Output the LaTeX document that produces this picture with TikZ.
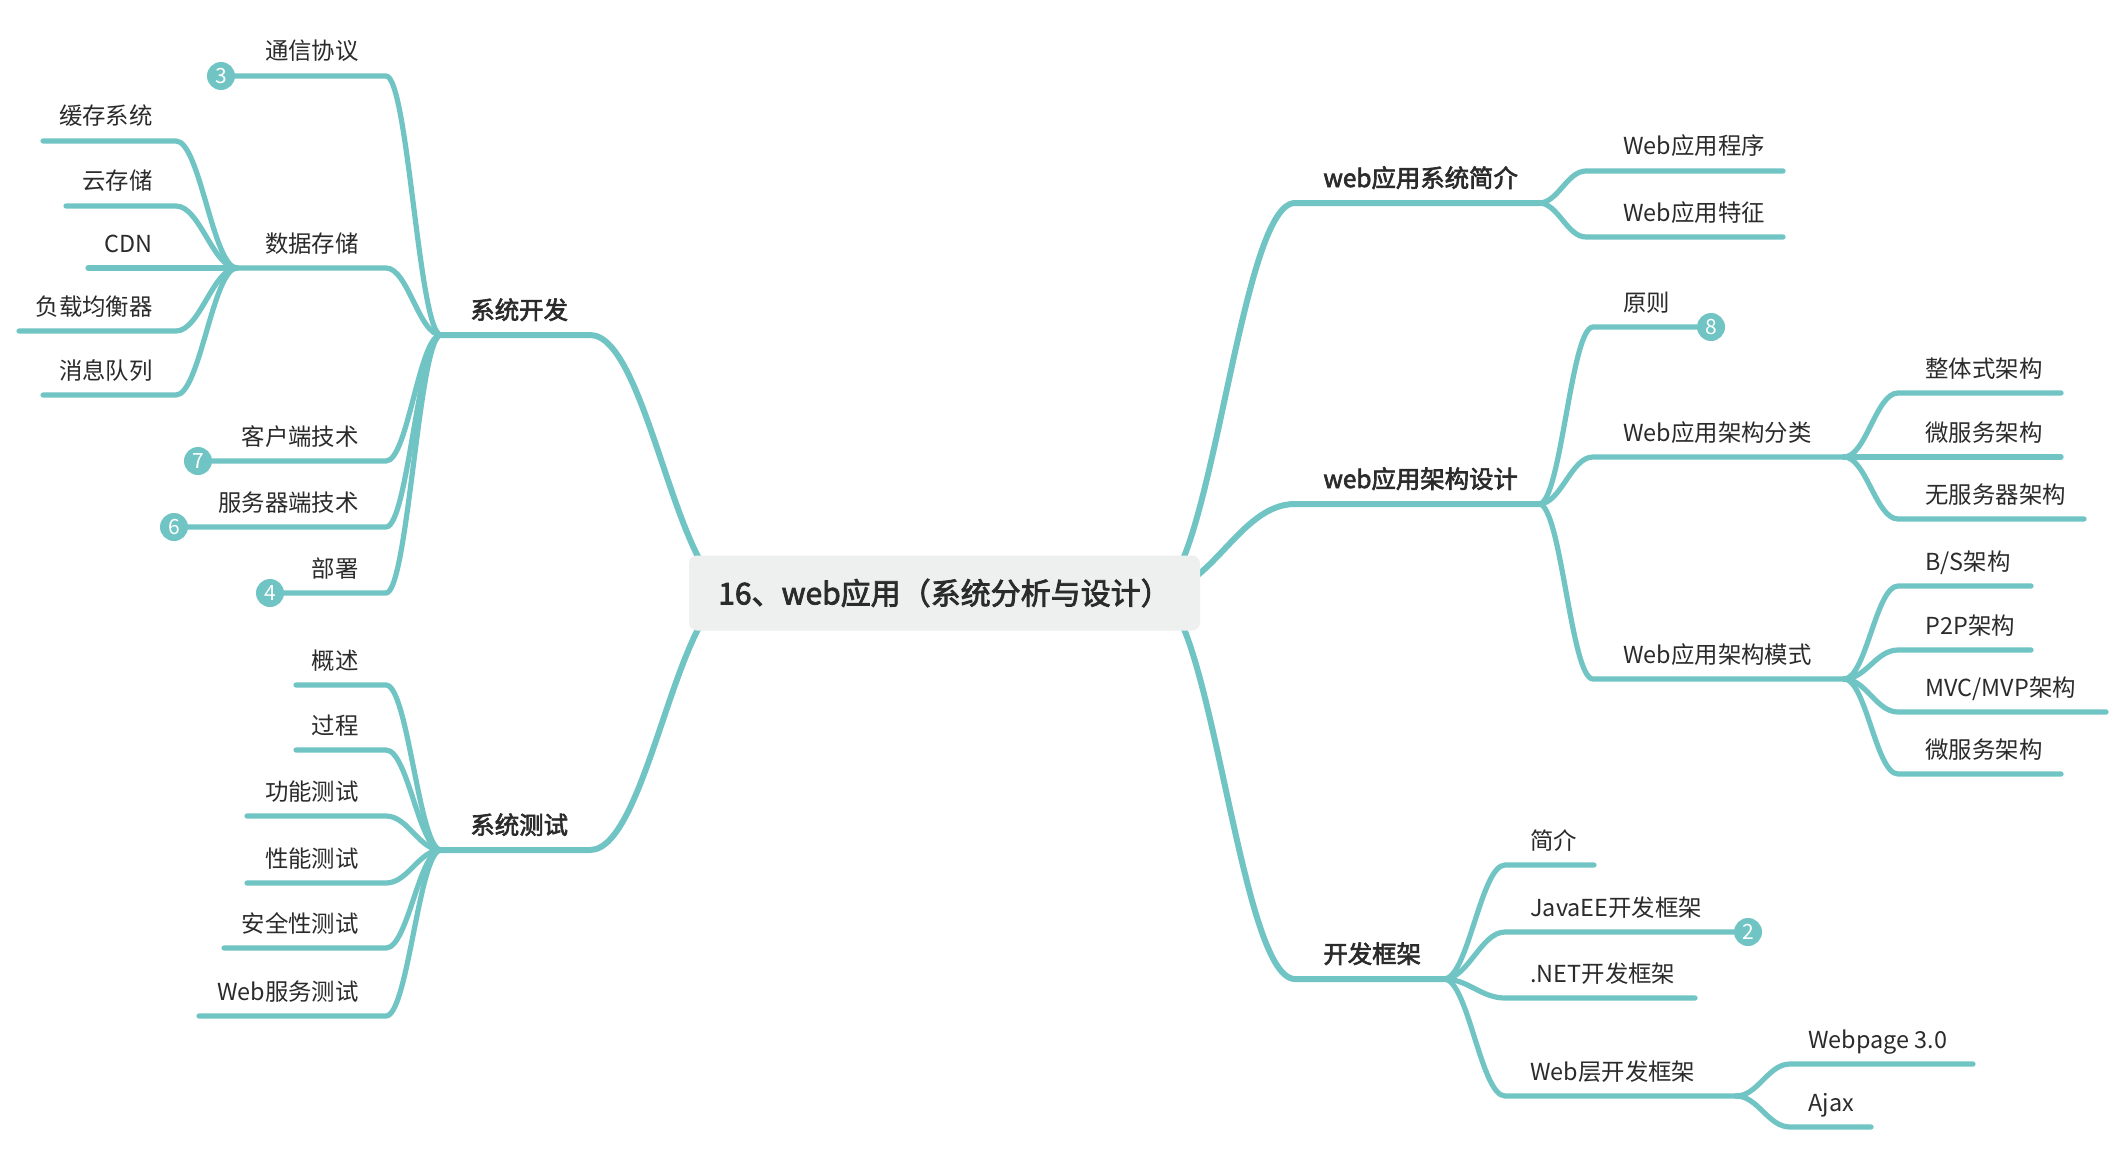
\documentclass[tikz,border=0pt]{standalone}
\usepackage{fontspec}
\setmainfont{Noto Sans CJK SC}
\newfontfamily\medfont[FakeBold=2.6]{Noto Sans CJK SC}
\definecolor{teal1}{RGB}{112,197,196}
\definecolor{txt}{RGB}{43,43,43}
\definecolor{boxbg}{RGB}{238,240,239}
\pgfdeclarelayer{bg}
\pgfsetlayers{bg,main}
\begin{document}
\begin{tikzpicture}[x=0.5pt,y=-0.5pt,
  conn/.style={draw=teal1,line width=2.6pt,line cap=round},
  mainconn/.style={draw=teal1,line width=3pt,line cap=round},
  lfan/.style={out=180,in=0,distance=#1},
  rfan/.style={out=0,in=180,distance=#1},
  leafL/.style={anchor=base east,inner sep=0pt,text=txt,font=\fontsize{11.7}{14}\selectfont},
  leafR/.style={anchor=base west,inner sep=0pt,text=txt,font=\fontsize{11.7}{14}\selectfont},
  topic/.style={anchor=base west,inner sep=0pt,text=txt,font=\fontsize{12.2}{14}\medfont},
  badge/.style={circle,fill=teal1,text=white,inner sep=0pt,minimum size=14pt,font=\fontsize{10.5}{11}\selectfont},
  central/.style={rounded corners=4pt,fill=boxbg,text=txt,minimum width=255.5pt,minimum height=37.5pt,inner sep=0pt,font=\fontsize{15}{17}\medfont},
]
\useasboundingbox (0,0) rectangle (2126,1156);

% ---------- central ----------
\node[central] (root) at (944.5,593) {16、web应用（系统分析与设计）};
\coordinate (cL) at (735,593);
\coordinate (cR) at (1155,593);

% ---------- left: 系统开发 ----------
\coordinate (kfH) at (441,335);
\coordinate (kfE) at (590,335);
\node[topic] (kf) at (470,319) {系统开发};

\coordinate (e1) at (386,76);   \node[badge] (b3) at (221,76) {3};
\node[leafL] (n1) at (359,60) {通信协议};
\coordinate (e2) at (386,268);  \coordinate (sjH) at (237,268);
\node[leafL] (n2) at (359,252) {数据存储};
\coordinate (e3) at (386,461);  \node[badge] (b7) at (198,461) {7};
\node[leafL] (n3) at (359,445) {客户端技术};
\coordinate (e4) at (386,527);  \node[badge] (b6) at (174,527) {6};
\node[leafL] (n4) at (359,511) {服务器端技术};
\coordinate (e5) at (386,593);  \node[badge] (b4) at (270,593) {4};
\node[leafL] (n5) at (359,577) {部署};

% 数据存储 children
\coordinate (s1) at (176,141); \coordinate (s1e) at (43,141);
\node[leafL] (m1) at (153,125) {缓存系统};
\coordinate (s2) at (176,206); \coordinate (s2e) at (66,206);
\node[leafL] (m2) at (153,190) {云存储};
\coordinate (s3e) at (88,268);
\node[leafL] (m3) at (153,252) {CDN};
\coordinate (s4) at (176,331); \coordinate (s4e) at (19,331);
\node[leafL] (m4) at (153,315) {负载均衡器};
\coordinate (s5) at (176,395); \coordinate (s5e) at (43,395);
\node[leafL] (m5) at (153,379) {消息队列};

% ---------- left: 系统测试 ----------
\coordinate (csH) at (441,850);
\coordinate (csE) at (590,850);
\node[topic] (cs) at (470,834) {系统测试};
\coordinate (t1) at (386,685);  \coordinate (t1e) at (296,685);
\node[leafL] (q1) at (359,669) {概述};
\coordinate (t2) at (386,750);  \coordinate (t2e) at (296,750);
\node[leafL] (q2) at (359,734) {过程};
\coordinate (t3) at (386,816);  \coordinate (t3e) at (247,816);
\node[leafL] (q3) at (359,800) {功能测试};
\coordinate (t4) at (386,883);  \coordinate (t4e) at (247,883);
\node[leafL] (q4) at (359,867) {性能测试};
\coordinate (t5) at (386,948);  \coordinate (t5e) at (224,948);
\node[leafL] (q5) at (359,932) {安全性测试};
\coordinate (t6) at (386,1016); \coordinate (t6e) at (199,1016);
\node[leafL] (q6) at (359,1000) {Web服务测试};

% ---------- right: web应用系统简介 ----------
\coordinate (jjH) at (1295,203);
\coordinate (jjE) at (1539,203);
\node[topic] (jj) at (1323,187) {web应用系统简介};
\coordinate (j1) at (1586,171); \coordinate (j1e) at (1783,171);
\node[leafR] (p1) at (1623,155) {Web应用程序};
\coordinate (j2) at (1586,237); \coordinate (j2e) at (1783,237);
\node[leafR] (p2) at (1623,221) {Web应用特征};

% ---------- right: web应用架构设计 ----------
\coordinate (sdH) at (1295,504);
\coordinate (sdE) at (1539,504);
\node[topic] (sd) at (1323,488) {web应用架构设计};
\coordinate (d1) at (1593,327); \node[badge] (b8) at (1711,327) {8};
\node[leafR] (r1) at (1623,311) {原则};
\coordinate (d2) at (1593,457); \coordinate (flH) at (1844,457);
\node[leafR] (r2) at (1623,441) {Web应用架构分类};
\coordinate (d3) at (1593,679); \coordinate (msH) at (1844,679);
\node[leafR] (r3) at (1623,663) {Web应用架构模式};

\coordinate (f1) at (1898,393); \coordinate (f1e) at (2061,393);
\node[leafR] (g1) at (1925,377) {整体式架构};
\coordinate (f2e) at (2061,457);
\node[leafR] (g2) at (1925,441) {微服务架构};
\coordinate (f3) at (1898,519); \coordinate (f3e) at (2084,519);
\node[leafR] (g3) at (1925,503) {无服务器架构};

\coordinate (h1) at (1898,586); \coordinate (h1e) at (2031,586);
\node[leafR] (k1) at (1925,570) {B/S架构};
\coordinate (h2) at (1898,650); \coordinate (h2e) at (2031,650);
\node[leafR] (k2) at (1925,634) {P2P架构};
\coordinate (h3) at (1898,712); \coordinate (h3e) at (2106,712);
\node[leafR] (k3) at (1925,696) {MVC/MVP架构};
\coordinate (h4) at (1898,774); \coordinate (h4e) at (2061,774);
\node[leafR] (k4) at (1925,758) {微服务架构};

% ---------- right: 开发框架 ----------
\coordinate (kjH) at (1295,979);
\coordinate (kjE) at (1444,979);
\node[topic] (kj) at (1323,963) {开发框架};
\coordinate (w1) at (1505,865);  \coordinate (w1e) at (1594,865);
\node[leafR] (v1) at (1530,849) {简介};
\coordinate (w2) at (1505,932);  \node[badge] (b2) at (1748,932) {2};
\node[leafR] (v2) at (1530,916) {JavaEE开发框架};
\coordinate (w3) at (1505,998);  \coordinate (w3e) at (1695,998);
\node[leafR] (v3) at (1530,982) {.NET开发框架};
\coordinate (w4) at (1505,1096); \coordinate (wcH) at (1736,1096);
\node[leafR] (v4) at (1530,1080) {Web层开发框架};
\coordinate (u1) at (1790,1064); \coordinate (u1e) at (1973,1064);
\node[leafR] (o1) at (1808,1048) {Webpage 3.0};
\coordinate (u2) at (1790,1127); \coordinate (u2e) at (1871,1127);
\node[leafR] (o2) at (1808,1111) {Ajax};

% ---------- connectors ----------
\begin{pgfonlayer}{bg}
\fill[white] (0,0) rectangle (2126,1156);
% main branches
\draw[mainconn] (cL) to[lfan=29pt] (kfE) -- (kfH);
\draw[mainconn] (cL) to[lfan=29pt] (csE) -- (csH);
\draw[mainconn] (cR) to[rfan=28pt] (jjH) -- (jjE);
\draw[mainconn] (cR) to[rfan=28pt] (sdH) -- (sdE);
\draw[mainconn] (cR) to[rfan=28pt] (kjH) -- (kjE);
% 系统开发
\draw[conn] (kfH) to[lfan=11pt] (e1) -- (b3);
\draw[conn] (kfH) to[lfan=11pt] (e2) -- (sjH);
\draw[conn] (kfH) to[lfan=11pt] (e3) -- (b7);
\draw[conn] (kfH) to[lfan=11pt] (e4) -- (b6);
\draw[conn] (kfH) to[lfan=11pt] (e5) -- (b4);
% 数据存储
\draw[conn] (sjH) to[lfan=12pt] (s1) -- (s1e);
\draw[conn] (sjH) to[lfan=12pt] (s2) -- (s2e);
\draw[conn] (sjH) -- (s3e);
\draw[conn] (sjH) to[lfan=12pt] (s4) -- (s4e);
\draw[conn] (sjH) to[lfan=12pt] (s5) -- (s5e);
% 系统测试
\draw[conn] (csH) to[lfan=11pt] (t1) -- (t1e);
\draw[conn] (csH) to[lfan=11pt] (t2) -- (t2e);
\draw[conn] (csH) to[lfan=11pt] (t3) -- (t3e);
\draw[conn] (csH) to[lfan=11pt] (t4) -- (t4e);
\draw[conn] (csH) to[lfan=11pt] (t5) -- (t5e);
\draw[conn] (csH) to[lfan=11pt] (t6) -- (t6e);
% 系统简介
\draw[conn] (jjE) to[rfan=9.5pt] (j1) -- (j1e);
\draw[conn] (jjE) to[rfan=9.5pt] (j2) -- (j2e);
% 架构设计
\draw[conn] (sdE) to[rfan=11pt] (d1) -- (b8);
\draw[conn] (sdE) to[rfan=11pt] (d2) -- (flH);
\draw[conn] (sdE) to[rfan=11pt] (d3) -- (msH);
\draw[conn] (flH) to[rfan=11pt] (f1) -- (f1e);
\draw[conn] (flH) -- (f2e);
\draw[conn] (flH) to[rfan=11pt] (f3) -- (f3e);
\draw[conn] (msH) to[rfan=11pt] (h1) -- (h1e);
\draw[conn] (msH) to[rfan=11pt] (h2) -- (h2e);
\draw[conn] (msH) to[rfan=11pt] (h3) -- (h3e);
\draw[conn] (msH) to[rfan=11pt] (h4) -- (h4e);
% 开发框架
\draw[conn] (kjE) to[rfan=12pt] (w1) -- (w1e);
\draw[conn] (kjE) to[rfan=12pt] (w2) -- (b2);
\draw[conn] (kjE) to[rfan=12pt] (w3) -- (w3e);
\draw[conn] (kjE) to[rfan=12pt] (w4) -- (wcH);
\draw[conn] (wcH) to[rfan=11pt] (u1) -- (u1e);
\draw[conn] (wcH) to[rfan=11pt] (u2) -- (u2e);
\end{pgfonlayer}
\end{tikzpicture}
\end{document}
